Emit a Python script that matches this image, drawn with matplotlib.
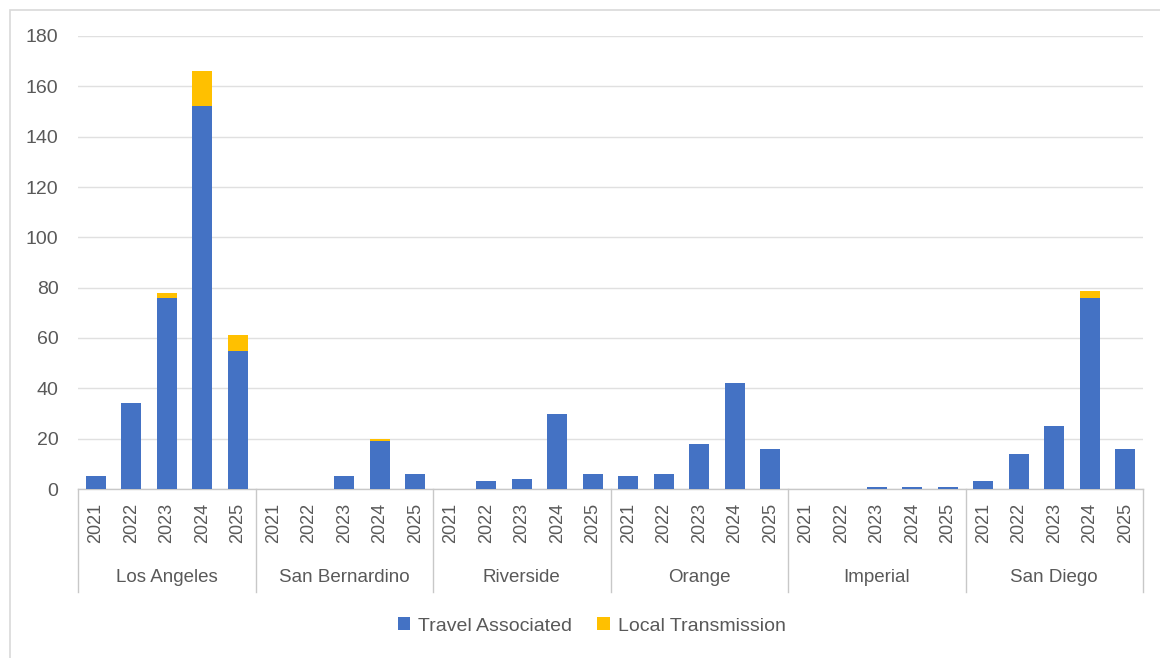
import matplotlib
matplotlib.use("Agg")
import matplotlib.pyplot as plt
from matplotlib.patches import Rectangle, Patch
from matplotlib.transforms import blended_transform_factory
import numpy as np

counties = ["Los Angeles", "San Bernardino", "Riverside", "Orange", "Imperial", "San Diego"]
years = ["2021", "2022", "2023", "2024", "2025"]
travel = [
    5, 34, 76, 152, 55,     # Los Angeles
    0, 0, 5, 19, 6,         # San Bernardino
    0, 3, 4, 30, 6,         # Riverside
    5, 6, 18, 42, 16,       # Orange
    0, 0, 0.6, 0.6, 0.6,    # Imperial
    3, 14, 25, 76, 16,      # San Diego
]
local = [
    0, 0, 2, 14, 6,
    0, 0, 0, 1, 0,
    0, 0, 0, 0, 0,
    0, 0, 0, 0, 0,
    0, 0, 0, 0, 0,
    0, 0, 0, 2.5, 0,
]
series_names = ["Travel Associated", "Local Transmission"]
colors = ["#4472C4", "#FFC000"]
text_color = "#595959"

plt.rcParams["font.family"] = ["Liberation Sans", "DejaVu Sans"]

W, H = 1160, 658
fig = plt.figure(figsize=(W / 100, H / 100), dpi=100)
ax_left, ax_right, ax_top, ax_bot = 78, 1143, 36, 489
ax = fig.add_axes([ax_left / W, 1 - ax_bot / H, (ax_right - ax_left) / W, (ax_bot - ax_top) / H])

n = len(travel)
x = np.arange(n)
ax.bar(x, travel, width=0.57, color=colors[0], zorder=3)
ax.bar(x, local, width=0.57, bottom=travel, color=colors[1], zorder=3)

ax.set_xlim(-0.5, n - 0.5)
ax.set_ylim(0, 180)
ax.set_yticks(range(0, 181, 20))
ax.yaxis.grid(True, color="#e0e0e0", linewidth=1.0, zorder=0)
ax.set_axisbelow(True)
for s in ["top", "right", "left"]:
    ax.spines[s].set_visible(False)
ax.spines["bottom"].set_color("#c8c8c8")
ax.spines["bottom"].set_linewidth(1.0)

ax.set_xticks(x)
ax.set_xticklabels(years * len(counties), rotation=90, va="top", ha="center")
ax.tick_params(axis="x", length=0, pad=10, labelsize=13, colors=text_color)
ax.tick_params(axis="y", length=0, pad=14, labelsize=14, colors=text_color)

trans = blended_transform_factory(ax.transData, ax.transAxes)
bottom_line = -(592 - ax_bot) / (ax_bot - ax_top)
label_y = -(578 - ax_bot) / (ax_bot - ax_top)
for g in range(len(counties) + 1):
    xb = g * 5 - 0.5
    ax.plot([xb, xb], [0, bottom_line], color="#c8c8c8", lw=1.0, transform=trans, clip_on=False)
for g, name in enumerate(counties):
    ax.text(g * 5 + 2, label_y, name, transform=trans, ha="center", va="center",
            fontsize=13.5, color=text_color)

handles = [Patch(facecolor=c, edgecolor="none") for c in colors]
fig.legend(handles, series_names, loc="center", bbox_to_anchor=(0.51, 1 - 626 / H),
           ncol=2, frameon=False, fontsize=14, labelcolor=text_color,
           handlelength=0.65, handleheight=0.65, handletextpad=0.4, columnspacing=1.3)

fig.patches.append(Rectangle((10 / W, -0.05), 1.1, 1 - 10 / H + 0.05, transform=fig.transFigure,
                             fill=False, edgecolor="#d9d9d9", linewidth=1.2))

fig.savefig("out.png", dpi=100, facecolor="white")
